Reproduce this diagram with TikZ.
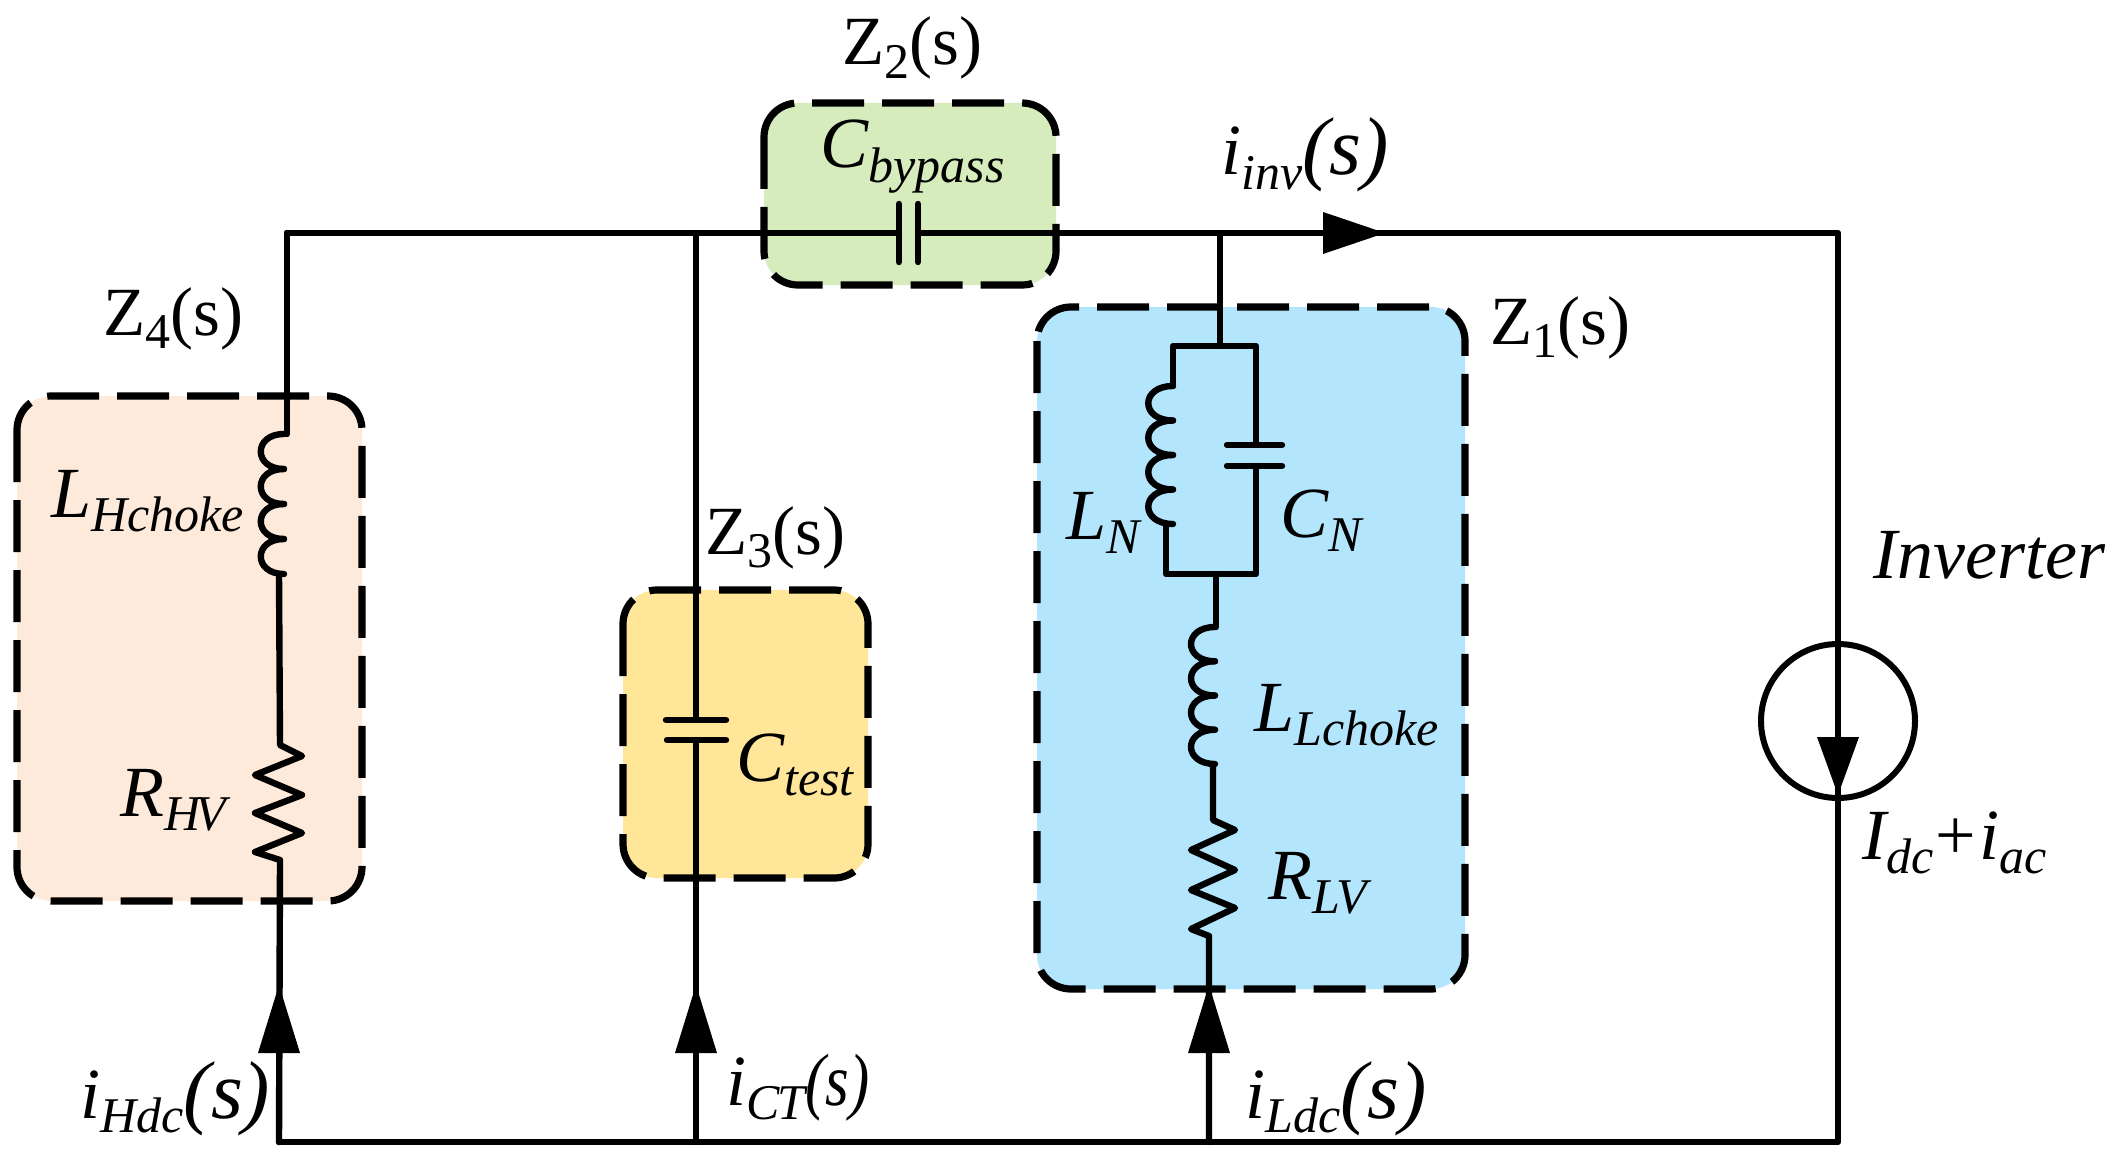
\documentclass[tikz,border=0pt]{standalone}
\usepackage{fontspec}
\setmainfont{Liberation Serif}
\usetikzlibrary{calc}
\definecolor{zoneA}{HTML}{B3E5FC}
\definecolor{zoneB}{HTML}{D6ECBC}
\definecolor{zoneC}{HTML}{FFE699}
\definecolor{zoneD}{HTML}{FDEADA}
% subscript helper, pictures are laid out in pixels of the reference
\newcommand{\lowr}[1]{\raisebox{-0.2em}{\fontsize{25}{25}\selectfont #1}}
\newcommand{\bigs}{\fontsize{41}{41}\selectfont(s)}
\tikzset{
  wire/.style={line width=3.2pt,line cap=round,line join=round},
  zone/.style={draw,line width=3.6pt,dash pattern=on 26pt off 9pt,rounded corners=17pt},
  lbl/.style={anchor=base west,inner sep=0pt,font=\fontsize{34.5}{36}\selectfont},
  ilbl/.style={anchor=base west,inner sep=0pt,font=\fontsize{36}{36}\selectfont\itshape},
  plate/.style={line width=3.2pt,line cap=round},
}
% coil of four turns: top right x, top y, bump reach, turn height
\newcommand{\coil}[4]{
  \foreach \n in {0,1,2,3} {
    \draw[wire] (#1,#2+\n*#4) .. controls (#1-#3,#2+\n*#4) and (#1-#3,#2+\n*#4+#4) .. (#1,#2+\n*#4+#4);
  }
}
\newcommand{\tipup}[1]{\fill (#1) -- ++(-21,68) -- ++(42,0) -- cycle;}
\begin{document}
\begin{tikzpicture}[x=0.5pt,y=-0.5pt]
\useasboundingbox (0,0) rectangle (2113,1166);

% shaded impedance zones
\path[zone,fill=zoneD] (17,396) rectangle (362,901);
\path[zone,fill=zoneC] (623,590) rectangle (868,878);
\path[zone,fill=zoneB] (764,103) rectangle (1056,285);
\path[zone,fill=zoneA] (1037,307) rectangle (1465,989);

% wire corners and junctions
\coordinate (tl) at (287,233);
\coordinate (tm) at (696,233);
\coordinate (cbl) at (899,233);
\coordinate (cbr) at (918,233);
\coordinate (tn) at (1220,233);
\coordinate (tr) at (1838,233);
\coordinate (bl) at (279,1142);
\coordinate (bm) at (696,1142);
\coordinate (bn) at (1209,1142);
\coordinate (br) at (1838,1142);

% top and bottom rails, inverter leg
\draw[wire] (tl) -- (cbl);
\draw[wire] (cbr) -- (tr) -- (br) -- (bl);
\node[circle,draw,line width=3pt,minimum size=77pt,inner sep=0pt] (src) at (1838,721) {};
\fill (1817,737) -- (1859,737) -- (1838,795) -- cycle;
\fill (1323,212) -- (1385,233) -- (1323,254) -- cycle;

% bypass capacitor
\draw[plate] (899,204) -- (899,262);
\draw[plate] (918,204) -- (918,262);

% high voltage branch
\coordinate (h1) at (287,434);
\coordinate (h2) at (279,574);
\coordinate (h3) at (280,745);
\coordinate (h4) at (280,860);
\draw[wire] (tl) -- (h1);
\coil{284}{434}{31}{35}
\draw[wire] (h2) -- (h3) -- (302,756) -- (255,775) -- (302,795) -- (255,813) -- (302,833) -- (255,852) -- (h4) -- (bl);
\coordinate (ah) at (279,985);
\tipup{ah}

% capacitor branch
\coordinate (c1) at (696,720);
\coordinate (c2) at (696,740);
\draw[wire] (tm) -- (c1);
\draw[wire] (c2) -- (bm);
\draw[plate] (666,720) -- (726,720);
\draw[plate] (667,740) -- (726,740);
\coordinate (ac) at (696,985);
\tipup{ac}

% low voltage branch
\coordinate (n1) at (1220,346);
\coordinate (n2) at (1216,574);
\coordinate (n3) at (1213,764);
\coordinate (n4) at (1213,820);
\coordinate (n5) at (1209,936);
\draw[wire] (tn) -- (n1);
\draw[wire] (1173,386) -- (1173,346) -- (1256,346) -- (1256,445);
\coil{1173}{386}{33}{34.5}
\draw[wire] (1166,524) -- (1166,574) -- (1256,574) -- (1256,466);
\draw[plate] (1227,445) -- (1282,445);
\draw[plate] (1227,466) -- (1282,466);
\draw[wire] (n2) -- (1216,627);
\coil{1215}{627}{32}{34.25}
\draw[wire] (n3) -- (n4) -- (1235,830) -- (1191,850) -- (1235,870) -- (1191,890) -- (1235,908) -- (1191,929) -- (n5) -- (bn);
\coordinate (an) at (1209,985);
\tipup{an}

% impedance names
\node[lbl] (z1) at (1490,344) {Z\lowr{1}(s)};
\node[lbl] (z2) at (842,65) {Z\lowr{2}(s)};
\node[lbl] (z3) at (705,554) {Z\lowr{3}(s)};
\node[lbl] (z4) at (103,335) {Z\lowr{4}(s)};

% component names
\node[ilbl] (cb) at (820,168) {C\lowr{bypass}};
\node[ilbl] (lh) at (51,517) {L\lowr{Hchoke}\kern2pt};
\node[ilbl] (rh) at (120,816) {R\lowr{H\kern-2.5pt V}};
\node[ilbl] (ct) at (736,781) {C\lowr{test}};
\node[ilbl] (ln) at (1066,539) {L\lowr{N}};
\node[ilbl] (cn) at (1280,537) {C\lowr{N}};
\node[ilbl] (ll) at (1254,731) {L\lowr{Lchoke}};
\node[ilbl] (rl) at (1268,899) {R\lowr{L\kern-2pt V}};
\node[ilbl] (inv) at (1873,578) {Inverter};
\node[ilbl] (id) at (1862,859) {I\lowr{dc}\kern1pt{\upshape +}\kern1.5pt i\lowr{ac}};

% branch currents
\node[ilbl] (ii) at (1221,175) {i\lowr{inv}\bigs};
\node[ilbl] (ih) at (80,1118) {i\lowr{Hdc}\bigs};
\node[ilbl] (ic) at (726,1105) {i\lowr{C\kern-1pt T}\scalebox{0.82}[1]{\fontsize{37}{37}\selectfont(s)}};
\node[ilbl] (il) at (1245,1118) {i\lowr{Ldc}\bigs};
\end{tikzpicture}
\end{document}
